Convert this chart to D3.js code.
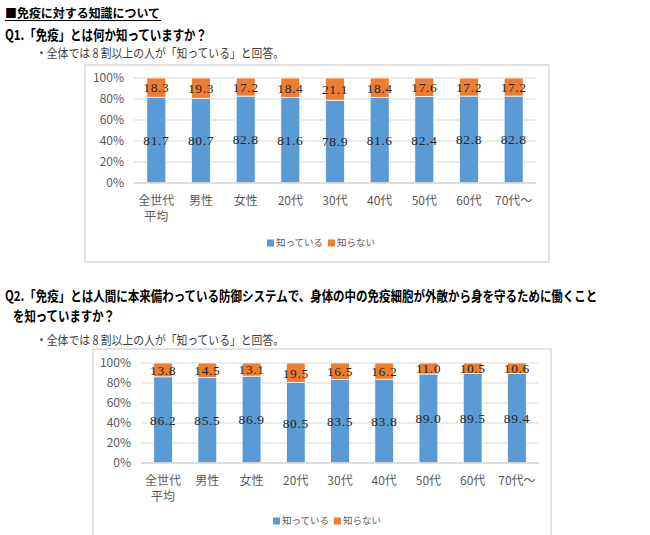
<!DOCTYPE html>
<html>
<head>
<meta charset="utf-8">
<script src="https://cdn.jsdelivr.net/npm/d3@7"></script>
<style>
body{margin:0;background:#fff;}
svg{display:block;}
</style>
</head>
<body>
<svg id="chart" width="650" height="535"></svg>
<script>
var kategorie = ["全世代\n平均","男性","女性","20代","30代","40代","50代","60代","70代～"];
var q1Wiedza = [81.7,80.7,82.8,81.6,78.9,81.6,82.4,82.8,82.8];
var q1Niewiedza = [18.3,19.3,17.2,18.4,21.1,18.4,17.6,17.2,17.2];
var q2Wiedza = [86.2,85.5,86.9,80.5,83.5,83.8,89.0,89.5,89.4];
var q2Niewiedza = [13.8,14.5,13.1,19.5,16.5,16.2,11.0,10.5,10.6];
var tickiY = [0,20,40,60,80,100];
var legenda = ["知っている","知らない"];

var kolory = ["#5B9BD5","#ED7D31"];
var fontJp = "'Noto Sans CJK JP','Noto Sans',sans-serif";
var svg = d3.select("#chart");

// naglowki, szerokosc dopasowana przez textLength
function napis(x,y,tekst,rozmiar,waga,kolor,dlugosc){
	var t = svg.append("text")
		.attr("x",x).attr("y",y)
		.attr("font-family",fontJp)
		.attr("font-size",rozmiar)
		.attr("font-weight",waga)
		.attr("fill",kolor)
		.text(tekst);
	if(dlugosc)
		t.attr("textLength",dlugosc).attr("lengthAdjust","spacingAndGlyphs");
	return t;
}
napis(5,18,"■免疫に対する知識について",12.5,"bold","#000",155);
svg.append("line").attr("x1",5).attr("x2",161).attr("y1",20.5).attr("y2",20.5)
	.style("stroke","#000").style("stroke-width","1px");
napis(5,40,"Q1.「免疫」とは何か知っていますか？",14,"bold","#000",202);
napis(36,58,"・全体では 8 割以上の人が「知っている」と回答。",12.5,"normal","#404040",248);

// dlugi wiersz Q2 - mniejsza czcionka rozciagnieta w pionie
napis(0,0,"Q2.「免疫」とは人間に本来備わっている防御システムで、身体の中の免疫細胞が外敵から身を守るために働くこと",11.5,"bold","#000")
	.attr("transform","translate(5,301) scale(1,1.2)");
napis(13,321,"を知っていますか？",14,"bold","#000",102);
napis(36,345,"・全体では 8 割以上の人が「知っている」と回答。",12.5,"normal","#404040",248);

function wykres(o){
	var g = svg.append("g");
	g.append("rect")
		.attr("x",o.ramka[0]).attr("y",o.ramka[1])
		.attr("width",o.ramka[2]).attr("height",o.ramka[3])
		.style("fill","#fff").style("stroke","#D9D9D9").style("stroke-width","1.5px");

	var x = d3.scaleBand().domain(kategorie).range([o.lewo,o.prawo]).paddingInner(0.575).paddingOuter(0.2875);
	var y = d3.scaleLinear().domain([0,100]).range([o.dol,o.gora]);

	// siatka
	g.selectAll(".siatka").data(tickiY).enter().append("line")
		.attr("x1",o.lewo).attr("x2",o.prawo)
		.attr("y1",function(d){return y(d);}).attr("y2",function(d){return y(d);})
		.style("stroke","#D9D9D9").style("stroke-width","1px");

	var osY = d3.axisLeft(y).tickValues(tickiY).tickSize(0).tickPadding(10).tickFormat(function(d){return d+"%";});
	var gy = g.append("g").attr("transform","translate("+o.lewo+",0)").call(osY);
	gy.select(".domain").remove();
	gy.selectAll("text").attr("font-family",fontJp).attr("font-size",12).attr("fill","#595959");

	var dane = kategorie.map(function(k,i){return {k:k,a:o.wiedza[i],b:o.niewiedza[i]};});

	g.selectAll(".bA").data(dane).enter().append("rect")
		.attr("x",function(d){return x(d.k);}).attr("width",x.bandwidth())
		.attr("y",function(d){return y(d.a);}).attr("height",function(d){return y(0)-y(d.a);})
		.style("fill",kolory[0]).style("stroke","#fff").style("stroke-width","0.75px");
	g.selectAll(".bB").data(dane).enter().append("rect")
		.attr("x",function(d){return x(d.k);}).attr("width",x.bandwidth())
		.attr("y",function(d){return y(d.a+d.b);}).attr("height",function(d){return y(d.a)-y(d.a+d.b);})
		.style("fill",kolory[1]).style("stroke","#fff").style("stroke-width","0.75px");

	// os X
	g.append("line").attr("x1",o.lewo).attr("x2",o.prawo).attr("y1",y(0)).attr("y2",y(0))
		.style("stroke","#D9D9D9").style("stroke-width","1.5px");

	// etykiety danych
	function etykieta(klasa,fy,ft){
		g.selectAll(klasa).data(dane).enter().append("text")
			.attr("x",function(d){return x(d.k)+x.bandwidth()/2;})
			.attr("y",fy).attr("dy","0.36em")
			.attr("text-anchor","middle")
			.attr("font-family","'Liberation Serif','DejaVu Serif',serif")
			.attr("font-size",13.5).attr("letter-spacing","0.6px")
			.attr("fill","#262626")
			.text(ft);
	}
	etykieta(".lA",function(d){return y(d.a/2);},function(d){return d.a.toFixed(1);});
	etykieta(".lB",function(d){return y(d.a+d.b/2);},function(d){return d.b.toFixed(1);});

	// kategorie
	var kt = g.selectAll(".kat").data(dane).enter().append("text")
		.attr("x",function(d){return x(d.k)+x.bandwidth()/2;})
		.attr("y",o.dol+22)
		.attr("text-anchor","middle")
		.attr("font-family",fontJp).attr("font-size",12).attr("fill","#595959");
	kt.each(function(d){
		var linie = d.k.split("\n");
		var t = d3.select(this);
		linie.forEach(function(l,j){
			t.append("tspan").attr("x",x(d.k)+x.bandwidth()/2).attr("dy",j==0?0:16).text(l);
		});
	});

	// legenda
	var lx = o.legX;
	legenda.forEach(function(n,i){
		g.append("rect").attr("x",lx).attr("y",o.legY-3.5).attr("width",7).attr("height",7).style("fill",kolory[i]);
		g.append("text").attr("x",lx+9).attr("y",o.legY).attr("dy","0.35em")
			.attr("font-family",fontJp).attr("font-size",9.5).attr("fill","#595959").text(n);
		lx += i==0 ? 61 : 0;
	});
}

wykres({ramka:[85,65,464,197],lewo:134,prawo:536,gora:78,dol:183,legX:267,legY:243,wiedza:q1Wiedza,niewiedza:q1Niewiedza});
wykres({ramka:[93,349,458,200],lewo:141,prawo:539,gora:363,dol:463,legX:273,legY:521,wiedza:q2Wiedza,niewiedza:q2Niewiedza});
</script>
</body>
</html>
